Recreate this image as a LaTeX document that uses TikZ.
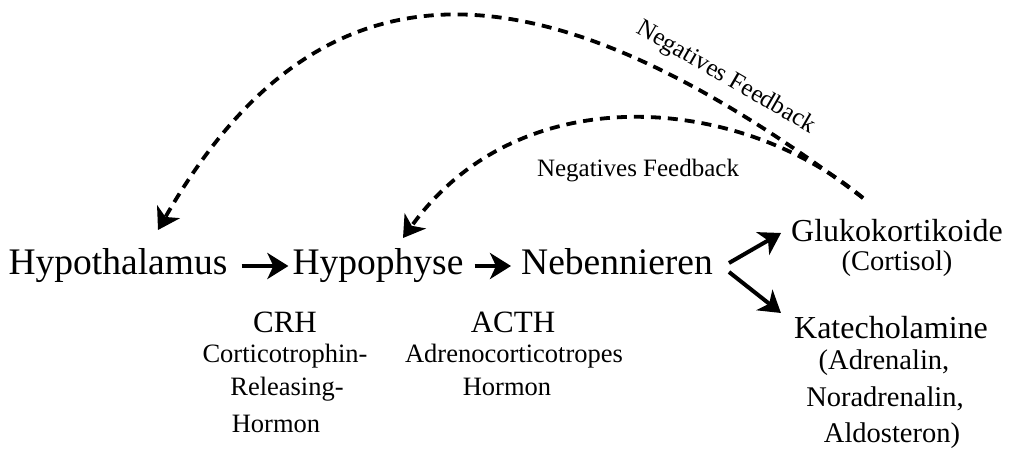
\documentclass[tikz,border=0pt]{standalone}
\usepackage{fontspec}
\setmainfont{Liberation Serif}
\usetikzlibrary{arrows.meta,calc}
\begin{document}
\begin{tikzpicture}[x=1pt,y=-1pt,
  txt/.style={inner sep=0pt, anchor=base},
  big/.style={txt, font=\fontsize{37.5}{40}\selectfont},
  mid/.style={txt, font=\fontsize{32}{34}\selectfont},
  paren/.style={txt, font=\fontsize{28.5}{30}\selectfont},
  abbr/.style={txt, font=\fontsize{31}{33}\selectfont},
  small/.style={txt, font=\fontsize{26.5}{28}\selectfont},
  fbl/.style={txt, font=\fontsize{25}{27}\selectfont},
  arr/.style={line width=4pt, -{Stealth[length=21pt,width=26pt,inset=6pt]}},
  fbarr/.style={arr, line width=3.8pt, dash pattern=on 10pt off 7pt}]
\useasboundingbox (0,0) rectangle (1010,449);
% main chain
\node[big] (hyt) at (118,275) {Hypothalamus};
\node[big] (hyp) at (378,275) {Hypophyse};
\node[big] (neb) at (617,275) {Nebennieren};
% outputs
\node[mid] (glu) at (897,242) {Glukokortikoide};
\node[paren] (cor) at (897,271) {(Cortisol)};
\node[mid] (kat) at (891,338) {Katecholamine};
\node[paren] (kat1) at (884,369) {(Adrenalin,};
\node[paren] (kat2) at (885,406) {Noradrenalin,};
\node[paren] (kat3) at (892,442) {Aldosteron)};
% hormones
\node[abbr] (crh) at (285,333) {CRH};
\node[small] (crh1) at (285,362) {Corticotrophin-};
\node[small] (crh2) at (287,395) {Releasing-};
\node[small] (crh3) at (276,432) {Hormon};
\node[abbr] (acth) at (513,333) {ACTH};
\node[small] (acth1) at (514,362) {Adrenocorticotropes};
\node[small] (acth2) at (507,395) {Hormon};
% solid arrows
\draw[arr] ($(hyt.base east)+(14,-9)$) -- ($(hyp.base west)+(-4,-9)$);
\draw[arr] ($(hyp.base east)+(11,-9)$) -- ($(neb.base west)+(-10,-9)$);
\draw[arr] ($(neb.base east)+(16,-12)$) -- ($(glu.base west)+(-10,-9)$);
\draw[arr] ($(neb.base east)+(16,-3)$) -- ($(kat.base west)+(-13,-25)$);
% feedback
\coordinate (fb) at ($(glu.base)+(-34,-44)$);
\coordinate (fbhyt) at ($(hyt.base)+(40,-45)$);
\coordinate (fbhyp) at ($(hyp.base)+(25,-37)$);
\draw[fbarr] (fb) .. controls (560,-30) and (330,-70) .. (fbhyt);
\draw[fbarr] (fb) .. controls (740,95) and (520,75) .. (fbhyp);
\node[fbl, rotate=-30] (lab1) at (723,83) {Negatives Feedback};
\node[fbl] (lab2) at (638,177) {Negatives Feedback};
\end{tikzpicture}
\end{document}
